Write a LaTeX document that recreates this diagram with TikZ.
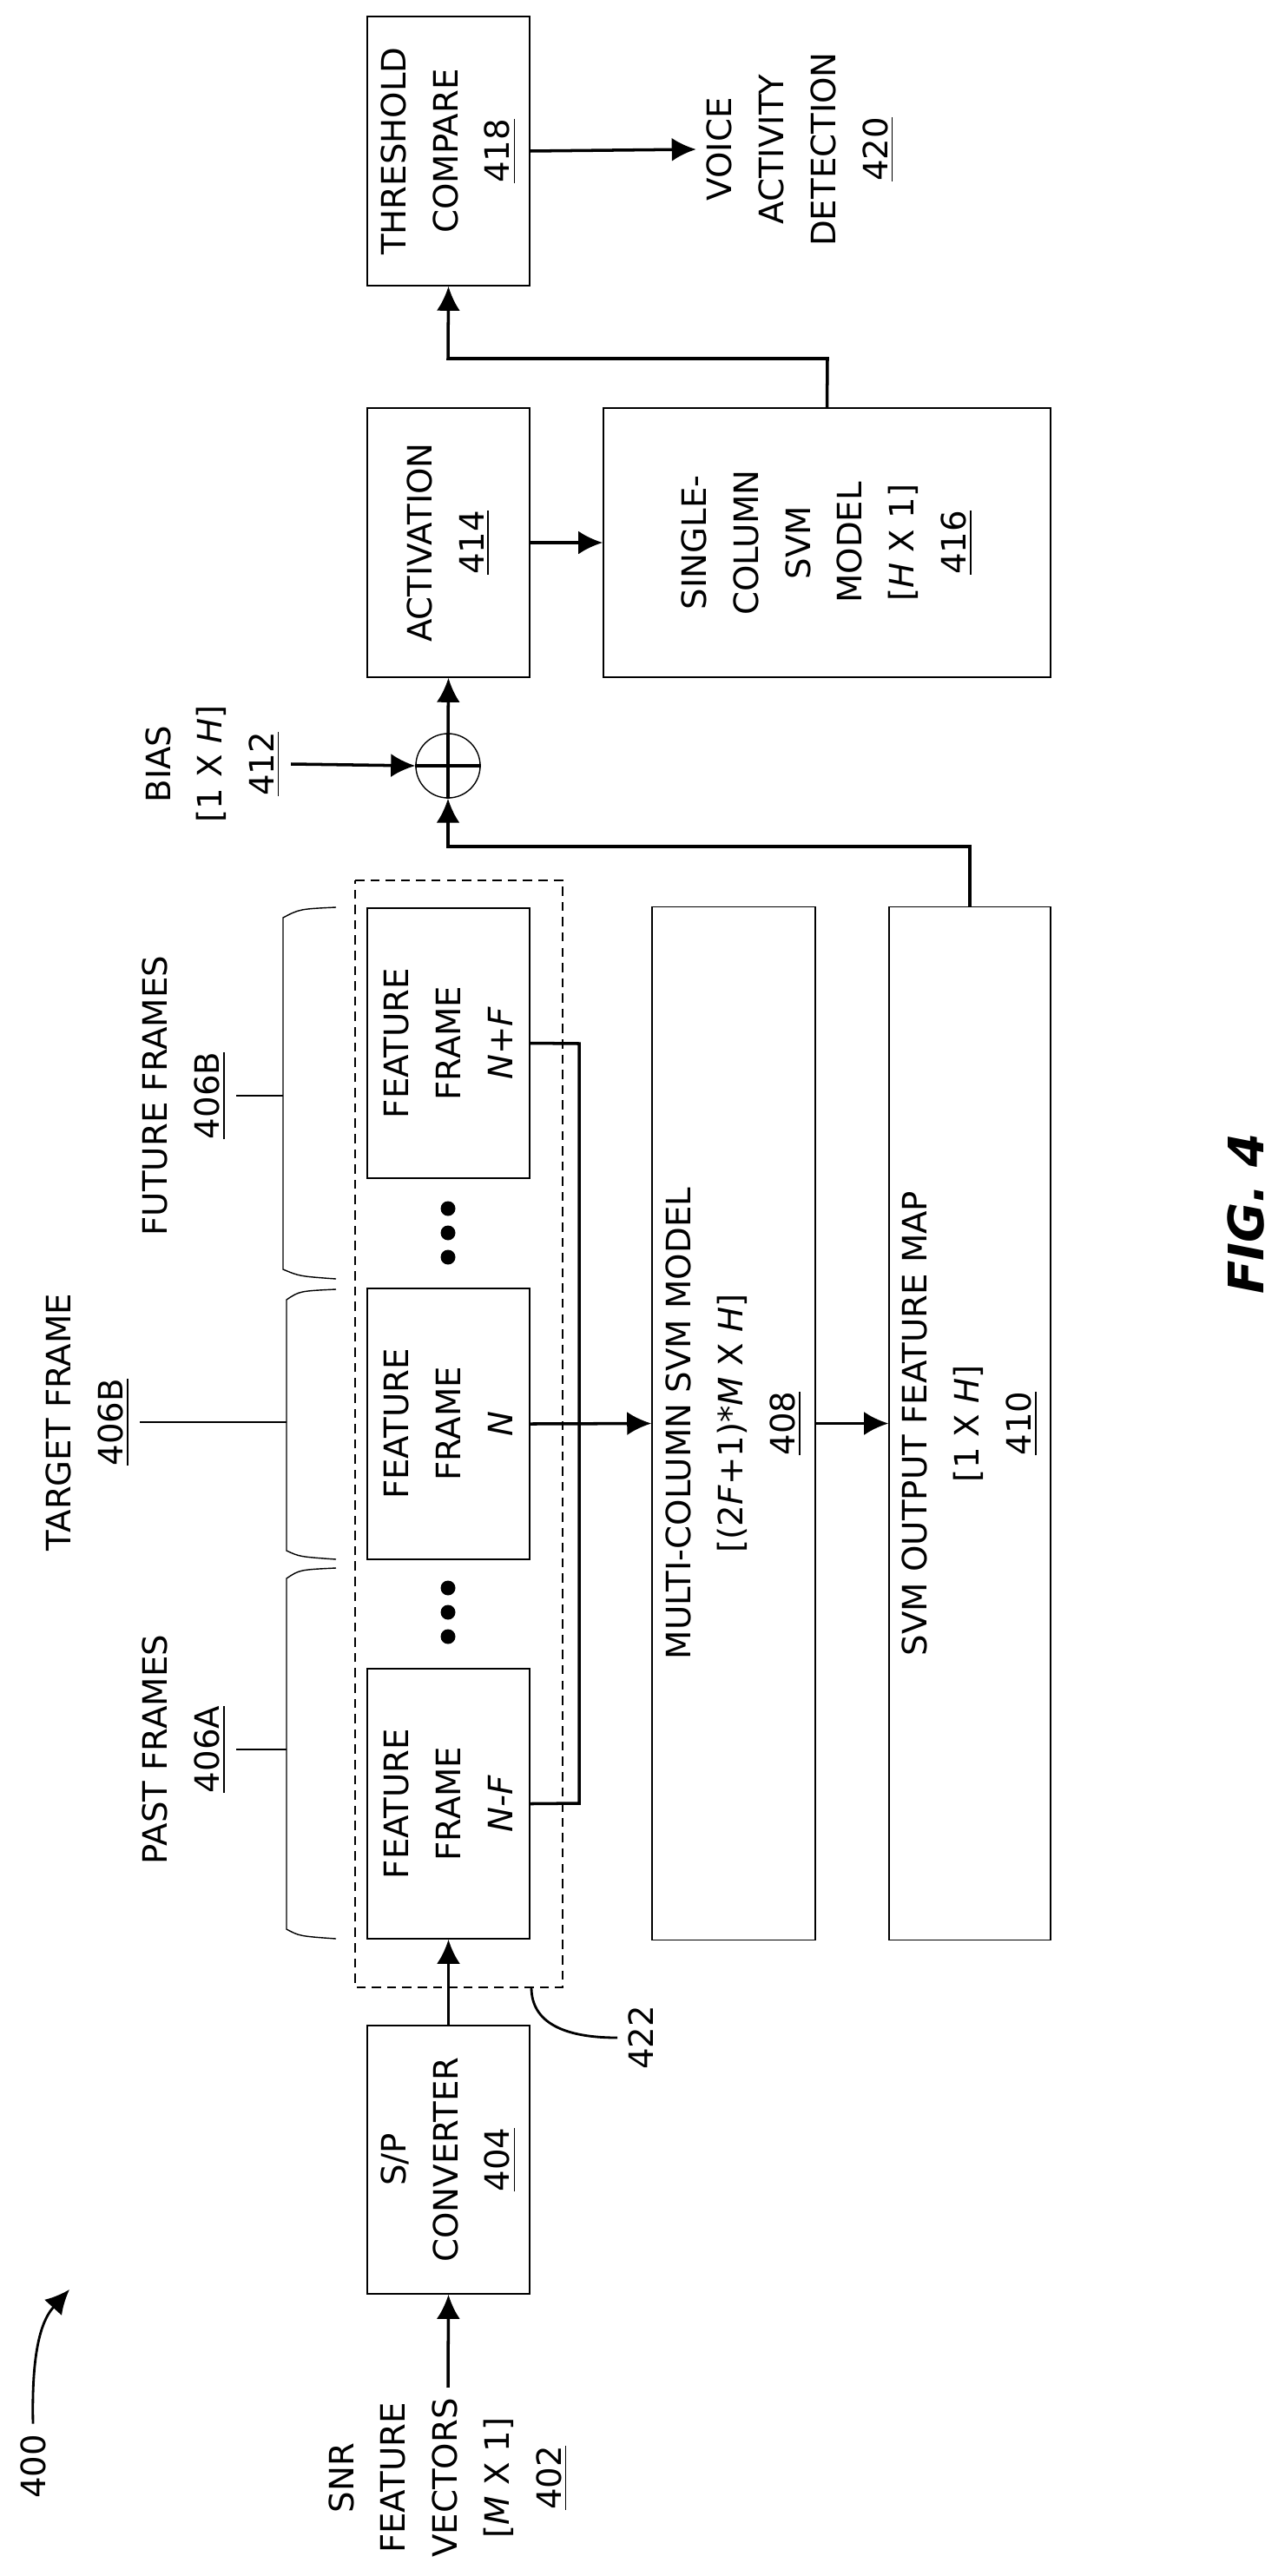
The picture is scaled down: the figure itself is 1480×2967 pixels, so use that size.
\documentclass[tikz,border=0pt]{standalone}
\usepackage{fontspec}
\setmainfont{DejaVu Sans}
\usetikzlibrary{arrows.meta}
\newcommand{\blocktext}{\fontsize{11}{17}\selectfont}
\tikzset{
  block/.style={draw, line width=0.4pt, align=center, font=\blocktext, inner sep=0pt},
  txt/.style={align=center, font=\blocktext},
  flow/.style={line width=1pt, -{Latex[length=2.8mm,width=2.7mm]}},
  wire/.style={line width=1pt},
  bracket/.style={line width=0.4pt}
}
\begin{document}
\begin{tikzpicture}[rotate=90, transform shape, x={(0,-0.01cm)}, y={(-0.01cm,0)}]
    \useasboundingbox (0,0) rectangle (1480,2967);

    \node[txt] (snr)  at (516,2854)   {SNR\\FEATURE\\VECTORS\\{}[\textit{M} X 1]\\\underline{402}};
    \node[block, minimum width=3.09cm, minimum height=1.87cm] (sp) at (516.5,2487.5) {S/P\\CONVERTER\\\underline{404}};

    \draw[line width=0.4pt, dash pattern=on 3pt off 2pt] (409,1014) rectangle (648,2289);
    \node[block, minimum width=3.11cm, minimum height=1.87cm] (ffm) at (516.5,2077.5) {FEATURE\\FRAME\\\textit{N-F}};
    \node[block, minimum width=3.12cm, minimum height=1.87cm] (ffn) at (516.5,1640)   {FEATURE\\FRAME\\\textit{N}};
    \node[block, minimum width=3.11cm, minimum height=1.87cm] (ffp) at (516.5,1201.5) {FEATURE\\FRAME\\\textit{N+F}};
    \foreach \y in {1392,1420,1448,1829,1857,1885}
      \fill (516,\y) circle[radius=0.085cm];

    \node[block, minimum width=11.89cm, minimum height=1.88cm] (mc) at (845,1639.5)  {MULTI-COLUMN SVM MODEL\\{}[(2\textit{F}+1)*\textit{M} X \textit{H}]\\\underline{408}};
    \node[block, minimum width=11.89cm, minimum height=1.86cm] (om) at (1117,1639.5) {SVM OUTPUT FEATURE MAP\\{}[1 X \textit{H}]\\\underline{410}};

    \node[txt] (past)   at (212,2015) {PAST FRAMES\\\underline{406A}};
    \node[txt] (target) at (101,1638) {TARGET FRAME\\\underline{406B}};
    \node[txt] (future) at (212,1262) {FUTURE FRAMES\\\underline{406B}};
    % brackets over the frames
    \draw[bracket] (387,1806) .. controls (345,1808) .. (330,1818) -- (330,2222) .. controls (345,2230) .. (387,2233);
    \draw[bracket] (387,1485) .. controls (345,1487) .. (330,1497) -- (330,1786) .. controls (345,1793) .. (387,1796);
    \draw[bracket] (387,1045) .. controls (345,1047) .. (326,1057) -- (326,1462) .. controls (345,1470) .. (387,1473);
    \draw[bracket] (past.south) -- (330,2015);
    \draw[bracket] (target.south) -- (330,1638);
    \draw[bracket] (future.south) -- (326,1262);

    \node[draw, circle, line width=0.4pt, minimum size=0.74cm, inner sep=0pt] (sum) at (516,882) {};
    \node[txt] (bias) at (245,880) {BIAS\\{}[1 X \textit{H}]\\\underline{412}};
    \node[block, minimum width=3.10cm, minimum height=1.87cm] (act) at (516.5,625) {ACTIVATION\\\underline{414}};
    \node[block, minimum width=3.10cm, minimum height=5.15cm] (sc) at (952.5,625) {SINGLE-\\COLUMN\\SVM\\MODEL\\{}[\textit{H} X 1]\\\underline{416}};
    \node[block, minimum width=3.10cm, minimum height=1.87cm] (thr) at (516.5,174) {THRESHOLD\\COMPARE\\\underline{418}};
    \node[txt] (vad) at (922,172) {VOICE\\ACTIVITY\\DETECTION\\\underline{420}};

    \node[txt] (lbl422) at (738,2347) {422};
    \node[txt] (lbl400) at (38,2841)  {400};
    \node[font=\fontsize{16}{18}\selectfont\bfseries\itshape] (fig) at (1435,1398) {FIG. 4};

    % connectors
    \draw[flow] (snr.east) -- (sp.west);
    \draw[flow] (sp.east) -- (ffm.west);
    \draw[wire] (ffm.south) -- (667,2077) -- (667,1202) -- (ffp.south);
    \draw[flow] (ffn.south) -- (mc.north);
    \draw[flow] (mc.south) -- (om.north);
    \draw[flow] (om.east) -- (1117,975) -- (516,975) -- (sum.west);
    \draw[flow] (bias.south) -- (sum.north);
    \draw[wire] (sum.north) -- (sum.south) (sum.west) -- (sum.east);
    \draw[flow] (sum.east) -- (act.west);
    \draw[flow] (act.south) -- (sc.north);
    \draw[flow] (sc.east) -- (953,413) -- (516,413) -- (thr.west);
    \draw[flow] (thr.south) -- (vad.north);
    \draw[line width=0.8pt] (612,2289) .. controls (612,2335) and (660,2347) .. (lbl422.north);
    \draw[flow, line width=0.8pt] (lbl400.east) .. controls (36,2700) and (50,2670) .. (80,2637);
\end{tikzpicture}
\end{document}
